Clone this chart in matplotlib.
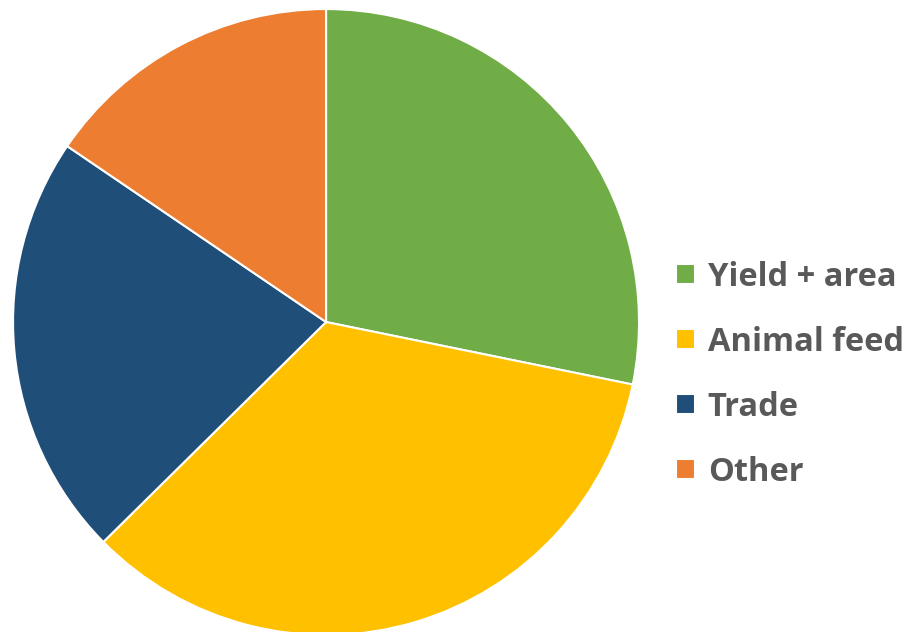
import matplotlib.pyplot as plt

# share of growth by driver
labels = ['Yield + area', 'Animal feed', 'Trade', 'Other']
shares = [28.2, 34.4, 21.9, 15.5]
colors = ['#70AD47', '#FFC000', '#1F4E79', '#ED7D31']

fig = plt.figure(figsize=(9.12, 6.32), dpi=100)
ax = fig.add_axes([0.0143, -0.0048, 0.6864, 0.9905])

wedges, _ = ax.pie(shares, colors=colors, startangle=90, counterclock=False,
                   radius=1.0, wedgeprops=dict(edgecolor='white', linewidth=1.5))
ax.set_xlim(-1, 1)
ax.set_ylim(-1, 1)
ax.set_aspect('equal')
ax.axis('off')

leg = fig.legend(wedges, labels, loc='center left', bbox_to_anchor=(0.741, 0.407),
                 frameon=False, handlelength=0.58, handleheight=0.58,
                 handletextpad=0.4, labelspacing=0.98, borderpad=0, borderaxespad=0,
                 prop=dict(family='Open Sans', weight='bold', size=23.5))
for t in leg.get_texts():
    t.set_color('#595959')

fig.savefig('out.png', dpi=100)
